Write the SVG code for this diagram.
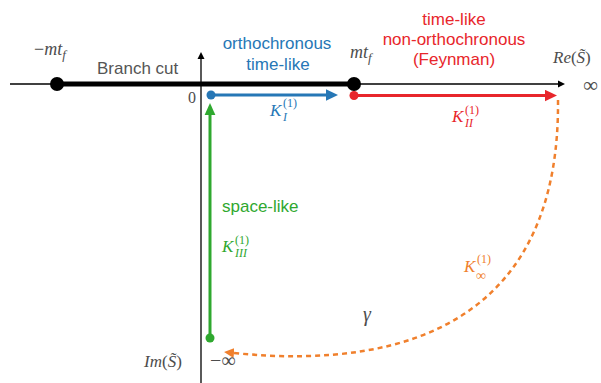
<svg xmlns="http://www.w3.org/2000/svg" width="601" height="383" viewBox="0 0 601 383">
  <style>
    .sans { font-family: "Liberation Sans", Arial, sans-serif; font-size: 17px; }
    .math { font-family: "Liberation Serif", "Times New Roman", serif; font-style: italic; fill: #4d4d4d; }
    .up { font-style: normal; }
    .blue { fill: #2677b6; }
    .red { fill: #e8262b; }
    .green { fill: #2fa82f; }
    .orange { fill: #f0802d; }
  </style>
  <defs>
    <marker id="axisArrow" markerUnits="userSpaceOnUse" markerWidth="8" markerHeight="8" refX="0" refY="4" orient="auto">
      <path d="M0,0.5 L7,4 L0,7.5 z" fill="#000"/>
    </marker>
    <marker id="blueArrow" markerUnits="userSpaceOnUse" markerWidth="13" markerHeight="12" refX="0" refY="6" orient="auto">
      <path d="M0,0.3 L12,6 L0,11.7 z" fill="#2677b6"/>
    </marker>
    <marker id="redArrow" markerUnits="userSpaceOnUse" markerWidth="13" markerHeight="12" refX="0" refY="6" orient="auto">
      <path d="M0,0.3 L12,6 L0,11.7 z" fill="#e8262b"/>
    </marker>
    <marker id="greenArrow" markerUnits="userSpaceOnUse" markerWidth="13" markerHeight="12" refX="0" refY="6" orient="auto">
      <path d="M0,0.6 L12,6 L0,11.4 z" fill="#2fa82f"/>
    </marker>
    <marker id="orangeArrow" markerUnits="userSpaceOnUse" markerWidth="11" markerHeight="11" refX="0" refY="5.5" orient="auto">
      <path d="M0,0.5 L10,5.5 L0,10.5 z" fill="#f0802d"/>
    </marker>
  </defs>

  <g id="axes">
    <line x1="10" y1="84" x2="558" y2="84" stroke="#000" stroke-width="1.3" marker-end="url(#axisArrow)"/>
    <line x1="201" y1="383" x2="201" y2="59" stroke="#000" stroke-width="1.3" marker-end="url(#axisArrow)"/>
  </g>

  <g id="connectors">
    <line id="branch-cut" x1="57" y1="84" x2="354" y2="84" stroke="#000" stroke-width="5"/>
    <line id="K-I" x1="211" y1="95" x2="326" y2="95" stroke="#2677b6" stroke-width="3" marker-end="url(#blueArrow)"/>
    <line id="K-II" x1="354" y1="95.5" x2="545" y2="95.5" stroke="#e8262b" stroke-width="3" marker-end="url(#redArrow)"/>
    <line id="K-III" x1="210" y1="338" x2="210" y2="115" stroke="#2fa82f" stroke-width="3" marker-end="url(#greenArrow)"/>
    <path id="K-inf" d="M558,100 C560,310 420,372 234,353" fill="none" stroke="#f0802d" stroke-width="2.5" stroke-dasharray="5,4" marker-end="url(#orangeArrow)"/>
  </g>

  <g id="node-minus-mtf">
    <circle cx="57" cy="84" r="7" fill="#000"/>
    <text class="math" x="34" y="55" font-size="18"><tspan class="up">−</tspan>mt<tspan font-size="13" dy="4">f</tspan></text>
  </g>
  <g id="node-mtf">
    <circle cx="354" cy="84" r="7" fill="#000"/>
    <text class="math" x="350" y="58" font-size="18">mt<tspan font-size="13" dy="4">f</tspan></text>
  </g>
  <g id="node-origin">
    <circle cx="211" cy="95" r="4.5" fill="#2677b6"/>
    <text x="188" y="103" font-family="Liberation Serif, serif" font-size="16" fill="#4d4d4d">0</text>
  </g>
  <g id="node-red-start">
    <circle cx="354" cy="95.5" r="4.5" fill="#e8262b"/>
  </g>
  <g id="node-green-start">
    <circle cx="210" cy="338" r="4.5" fill="#2fa82f"/>
  </g>

  <g id="labels">
    <text class="sans" x="97" y="74" fill="#555">Branch cut</text>
    <text class="sans blue" x="277" y="49" text-anchor="middle">orthochronous</text>
    <text class="sans blue" x="278" y="70" text-anchor="middle">time-like</text>
    <text class="sans red" x="454" y="25" text-anchor="middle">time-like</text>
    <text class="sans red" x="454" y="45" text-anchor="middle">non-orthochronous</text>
    <text class="sans red" x="454" y="65" text-anchor="middle">(Feynman)</text>
    <text class="sans green" x="222" y="212">space-like</text>

    <text class="math" x="553" y="63" font-size="17">Re<tspan class="up">(</tspan>S̃<tspan class="up">)</tspan></text>
    <text class="math up" x="583" y="92" font-size="21">∞</text>
    <text class="math" x="144" y="367" font-size="17">Im<tspan class="up">(</tspan>S̃<tspan class="up">)</tspan></text>
    <text class="math up" x="210" y="367" font-size="20">−∞</text>
    <text class="math" x="363" y="321" font-size="20">γ</text>

    <g id="label-K-I">
      <text class="math blue" x="270" y="116" font-size="17">K</text>
      <text class="math up blue" x="283" y="107" font-size="12">(1)</text>
      <text class="math blue" x="283" y="121" font-size="12">I</text>
    </g>
    <g id="label-K-II">
      <text class="math red" x="452" y="122" font-size="17">K</text>
      <text class="math up red" x="465" y="114" font-size="12">(1)</text>
      <text class="math red" x="465" y="127" font-size="12">II</text>
    </g>
    <g id="label-K-III">
      <text class="math green" x="222" y="252" font-size="17">K</text>
      <text class="math up green" x="235" y="244" font-size="12">(1)</text>
      <text class="math green" x="235" y="257" font-size="12">III</text>
    </g>
    <g id="label-K-inf">
      <text class="math orange" x="464" y="272" font-size="17">K</text>
      <text class="math up orange" x="477" y="263" font-size="12">(1)</text>
      <text class="math up orange" x="476" y="280" font-size="14">∞</text>
    </g>
  </g>
</svg>
